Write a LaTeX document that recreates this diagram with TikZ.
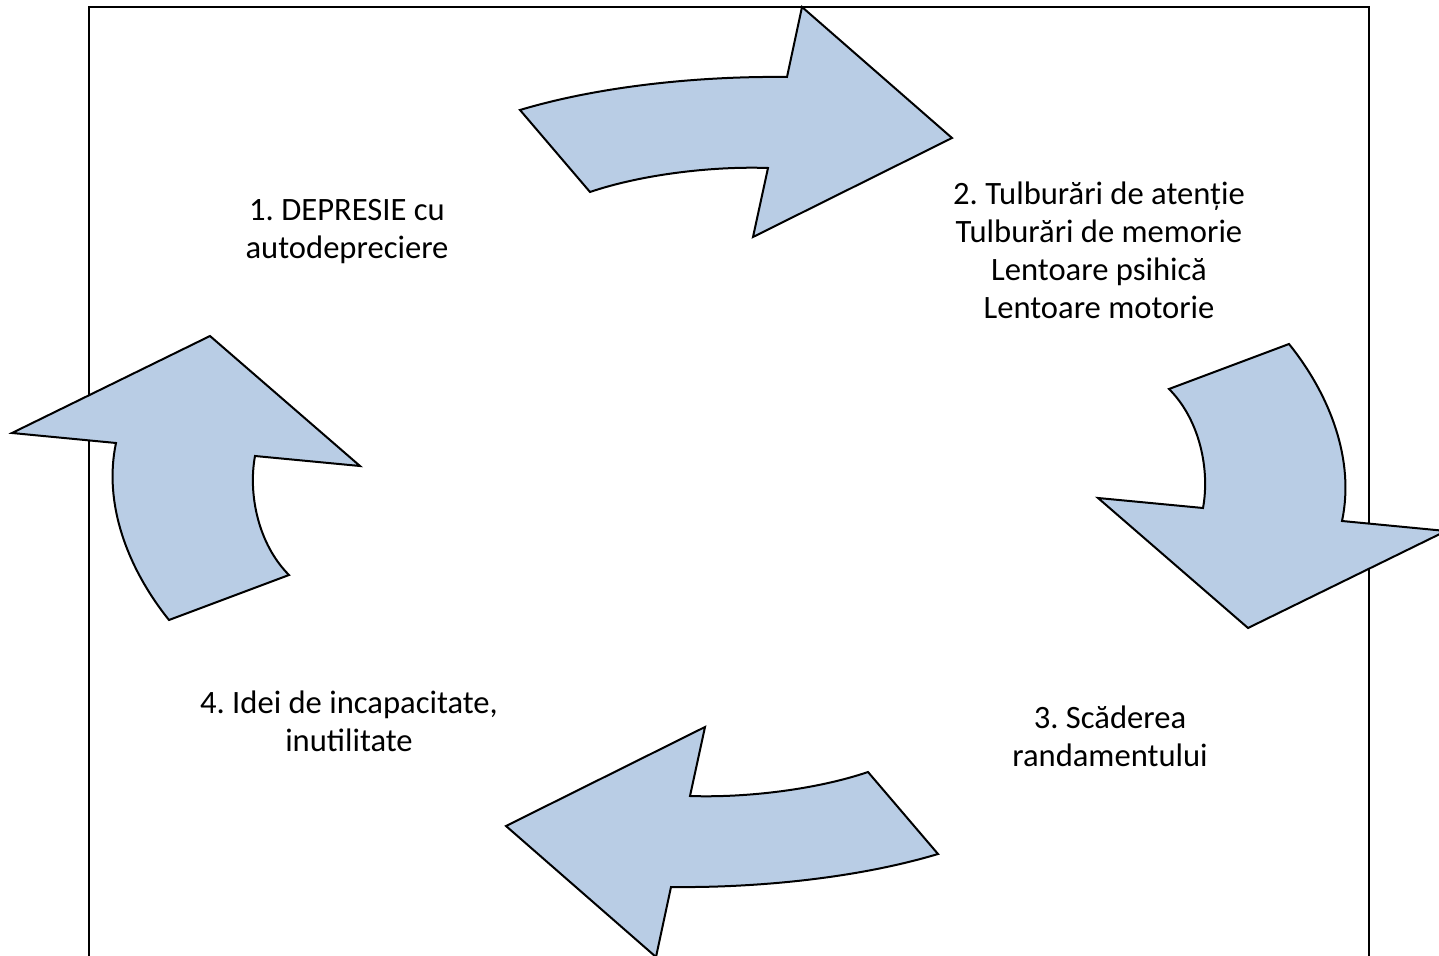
\documentclass[tikz,border=0pt]{standalone}
\usepackage{fontspec}
\setmainfont{Carlito}
\usepackage{tikz}
\definecolor{arrowblue}{RGB}{185,205,229}
\frenchspacing

\begin{document}
\begin{tikzpicture}[x=0.5pt, y=-0.5pt]
    \tikzstyle{every node}=[align=center, font=\fontsize{16.3}{19}\selectfont]
    \tikzstyle{cyclearrow}=[fill=arrowblue, draw=black, line width=1pt, line join=miter]
    \useasboundingbox (0,0) rectangle (1439,956);
    % frame, open at the bottom
    \draw[line width=1pt] (89,1000) -- (89,7) -- (1369,7) -- (1369,1000);
    % top arrow
    \draw[cyclearrow] (520,110) .. controls (600,86) and (700,76) .. (787,77)
        -- (802,7) -- (952,138) -- (753,237) -- (768,168)
        .. controls (710,166) and (640,175) .. (590,192) -- cycle;
    % right arrow
    \draw[cyclearrow] (1289,344) .. controls (1330,395) and (1355,460) .. (1342,521)
        -- (1446,531) -- (1248,628) -- (1098,498) -- (1203,508)
        .. controls (1210,470) and (1200,420) .. (1169,389) -- cycle;
    % bottom arrow
    \draw[cyclearrow] (938,854) .. controls (858,878) and (758,888) .. (671,887)
        -- (656,957) -- (506,826) -- (705,727) -- (690,796)
        .. controls (748,798) and (818,789) .. (868,772) -- cycle;
    % left arrow
    \draw[cyclearrow] (169,620) .. controls (128,569) and (103,504) .. (116,443)
        -- (12,433) -- (210,336) -- (360,466) -- (255,456)
        .. controls (248,494) and (258,544) .. (289,575) -- cycle;
    % texts
    \node (st_1) at (347,232) {1. DEPRESIE cu\\autodepreciere};
    \node (st_2) at (1099,250) {2. Tulburări de atenție\\Tulburări de memorie\\Lentoare psihică\\Lentoare motorie};
    \node (st_3) at (1110,736) {3. Scăderea\\randamentului};
    \node (st_4) at (349,721) {4. Idei de incapacitate,\\inutilitate};
\end{tikzpicture}
\end{document}
